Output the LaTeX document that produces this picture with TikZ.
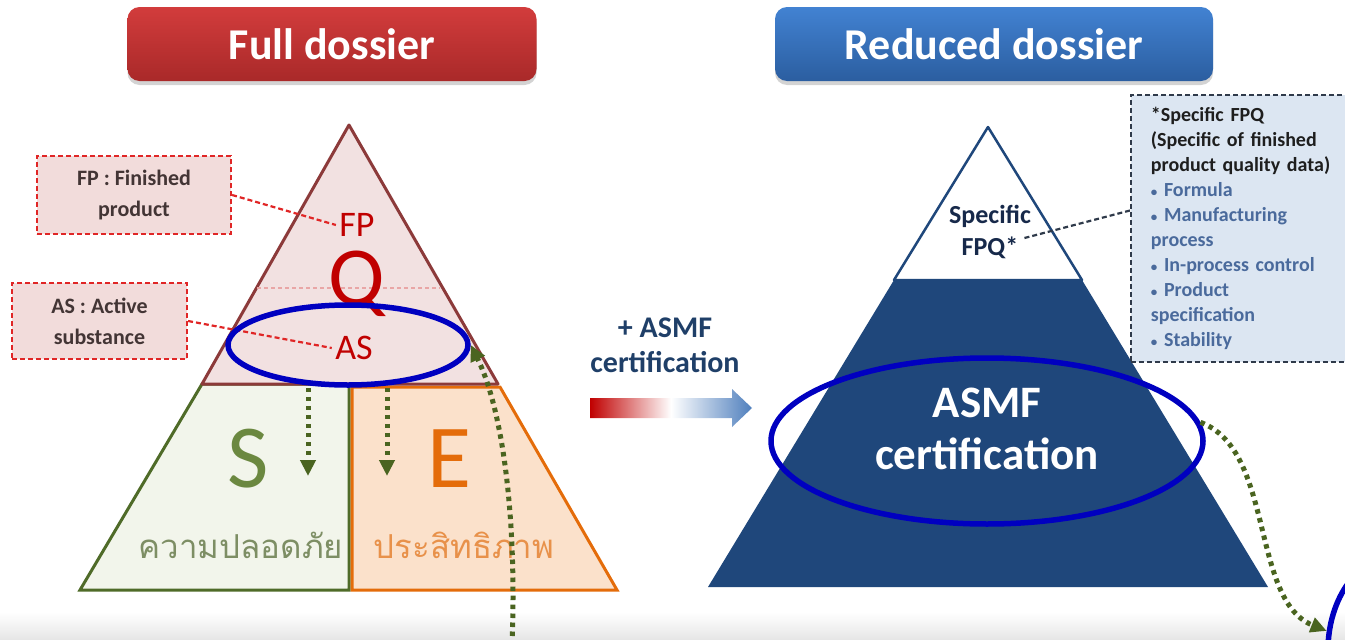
\documentclass[tikz,border=0pt]{standalone}
\usepackage{fontspec}
\setmainfont{Carlito}
\newfontfamily\thaifont[Script=Thai]{Loma}
\usetikzlibrary{arrows.meta,shapes.geometric,shadows,positioning}

\definecolor{qred}{HTML}{C00000}
\definecolor{qedge}{HTML}{8C3A3A}
\definecolor{qfill}{HTML}{F2E1E1}
\definecolor{sedge}{HTML}{4F6B28}
\definecolor{sfill}{HTML}{F2F5EB}
\definecolor{sletter}{HTML}{6B8840}
\definecolor{sthai}{HTML}{7D8E64}
\definecolor{eedge}{HTML}{E46C0A}
\definecolor{efill}{HTML}{FBE1CB}
\definecolor{ethai}{HTML}{E8914A}
\definecolor{navy}{HTML}{1F477B}
\definecolor{ringblue}{HTML}{0000C0}
\definecolor{flowgreen}{HTML}{4A6420}
\definecolor{leadred}{HTML}{E02626}
\definecolor{notefill}{HTML}{F2DCDB}
\definecolor{notetext}{HTML}{433535}
\definecolor{infofill}{HTML}{DCE6F2}
\definecolor{infoedge}{HTML}{2F3A4A}
\definecolor{infohead}{HTML}{1E1E1E}
\definecolor{infotext}{HTML}{4A6A9C}
\definecolor{plustext}{HTML}{1F3F68}
\definecolor{fpqtext}{HTML}{17294A}
\definecolor{arrowred}{HTML}{C00000}
\definecolor{arrowblue}{HTML}{4F7FBD}
\definecolor{redtop}{HTML}{D23C3C}
\definecolor{redbottom}{HTML}{A92929}
\definecolor{bluetop}{HTML}{4282D2}
\definecolor{bluebottom}{HTML}{2B5EA0}

\newcommand{\dotitem}{{\fontsize{13}{13}\selectfont\textbullet}\ }

\tikzset{
  header/.style={rounded corners=12pt, minimum width=#1, minimum height=74,
    text=white, font=\fontsize{44}{50}\selectfont\bfseries,
    drop shadow={shadow xshift=0pt, shadow yshift=-4pt, opacity=0.35}},
  note/.style={draw=leadred, fill=notefill, line width=2.2pt,
    dash pattern=on 5pt off 3pt, text=notetext, align=center,
    font=\fontsize{22}{31}\selectfont\bfseries},
  leader/.style={draw=leadred, line width=2.2pt, dash pattern=on 5pt off 3pt},
  ringline/.style={ellipse, draw=ringblue, line width=5.5pt, inner sep=0pt},
  flow/.style={flowgreen, line width=5pt, dash pattern=on 4.5pt off 4.5pt,
    -{Triangle[length=16pt,width=15pt]}},
  bigletter/.style={font=\fontsize{90}{90}\selectfont},
  thai/.style={font=\thaifont\fontsize{33}{36}\selectfont}
}

\begin{document}
\begin{tikzpicture}[x=1pt,y=-1pt]
	\clip (0,0) rectangle (1345,640);
	\shade[top color=white, bottom color=black!10] (0,612) rectangle (1345,640);

	\node[header=409, top color=redtop, bottom color=redbottom] (full) at (332,44) {Full dossier};
	\node[header=438, top color=bluetop, bottom color=bluebottom] (reduced) at (994,44) {Reduced dossier};

	\draw[sedge, fill=sfill, line width=3pt] (202,384) -- (349,384) -- (349,590) -- (80,590) -- cycle;
	\draw[eedge, fill=efill, line width=3pt] (352,387) -- (500,387) -- (617,590) -- (352,590) -- cycle;
	\draw[qedge, fill=qfill, line width=3pt, line join=round] (349,125) -- (498,384) -- (202,384) -- cycle;
	\draw[qred!35, line width=1.5pt, dash pattern=on 4pt off 3pt] (257,288) -- (440,288);

	\node[text=qred, font=\fontsize{36}{36}\selectfont] (fp) at (357,225) {FP};
	\node[text=qred, font=\fontsize{84}{84}\selectfont] (q) at (357,284) {Q};
	\node[text=qred, font=\fontsize{36}{36}\selectfont] (as) at (354,348) {AS};
	\node[bigletter, text=sletter] (s) at (248,459) {S};
	\node[bigletter, text=eedge] (e) at (449,459) {E};
	\node[thai, text=sthai] (safety) at (241,545) {ความปลอดภัย};
	\node[thai, text=ethai] (efficacy) at (464,545) {ประสิทธิภาพ};

	\node[note, minimum width=194, minimum height=78] (fpbox) at (134,195) {FP : Finished\\product};
	\node[note, minimum width=175, minimum height=76] (asbox) at (99.5,321) {AS : Active\\substance};
	\draw[leader] (fpbox.east) -- (fp.west);
	\draw[leader] (asbox.east) -- (as.west);

	\node[ringline, minimum width=240, minimum height=80] (asring) at (348,345) {};

	\node[text=plustext, align=center, font=\fontsize{30}{35}\selectfont\bfseries] (plus) at (665,345) {+ ASMF\\certification};
	\shade[left color=arrowred, right color=arrowblue, middle color=white]
		(590,398) -- (732,398) -- (732,389) -- (752,408) -- (732,427) -- (732,418) -- (590,418) -- cycle;

	\fill[navy] (894,280) -- (1082,280) -- (1268,587) -- (708,587) -- cycle;
	\draw[navy, fill=white, line width=2.5pt, line join=round] (988,127) -- (1082,280) -- (894,280) -- cycle;
	\node[text=fpqtext, align=center, font=\fontsize{26}{32}\selectfont\bfseries] (fpq) at (990,232) {Specific\\FPQ*};
	\node[text=white, align=center, font=\fontsize{45}{52}\selectfont\bfseries] (asmf) at (987,429) {ASMF\\certification};
	\node[ringline, minimum width=432, minimum height=166] (bigring) at (987,441) {};

	\node[draw=infoedge, fill=infofill, line width=1.8pt, dash pattern=on 5pt off 3pt,
		anchor=west, minimum width=240, minimum height=267, inner xsep=16pt, text width=200pt,
		align=left, text=infohead, font=\fontsize{20}{25}\selectfont\bfseries] (infobox) at (1130,228.5)
		{*Specific FPQ\\(Specific of finished\\product quality data)\\\color{infotext}\dotitem Formula\\\dotitem Manufacturing\\process\\\dotitem In-process control\\\dotitem Product\\specification\\\dotitem Stability};
	\draw[infoedge, line width=2.2pt, dash pattern=on 5pt off 3pt] ([xshift=-10pt,yshift=-6pt]fpq.east) -- ([yshift=18pt]infobox.west);

	\node[ringline, minimum width=140, minimum height=190] (nextring) at (1398,650) {};

	\coordinate (sdrop) at (308,476);
	\coordinate (edrop) at (387,476);
	\coordinate (rise) at (512,645);
	\draw[flow] (asring.south -| sdrop) -- (sdrop);
	\draw[flow] (asring.south -| edrop) -- (edrop);
	\draw[flow] (rise) .. controls (517,520) and (503,410) .. (asring.east);
	\draw[flow] (bigring.5) .. controls (1275,450) and (1250,600) .. (nextring.165);
\end{tikzpicture}
\end{document}
